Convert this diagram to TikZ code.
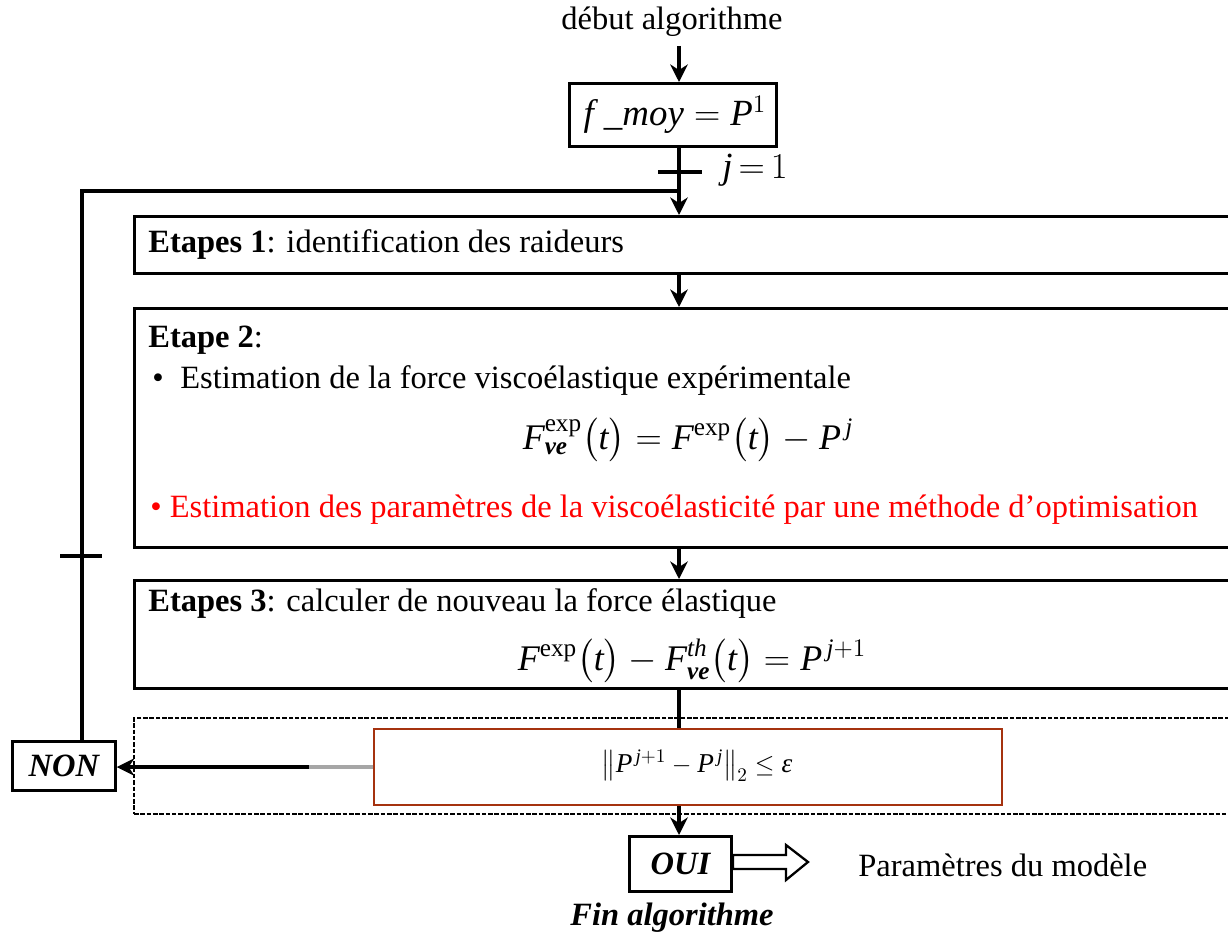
\documentclass[tikz,border=0pt]{standalone}
\usepackage{amsmath}
\usepackage{fontspec}
\setmainfont{Liberation Serif}
\usetikzlibrary{arrows.meta}
\newcommand{\pxl}[1]{#1*0.02cm}
\newcommand{\mi}[1]{\mathit{#1}}
\definecolor{testred}{RGB}{165,50,15}
\begin{document}
\begin{tikzpicture}[x=0.02cm,y=-0.02cm,
  every node/.style={font=\fontsize{18.5}{22}\selectfont, inner sep=0pt},
  box/.style={draw, line width=1.8pt, anchor=north west},
  arr/.style={line width=1.8pt, -{Stealth[length=10pt,width=10pt]}},
  conn/.style={line width=1.8pt},
  tick/.style={line width=2.4pt},
  big/.style={font=\fontsize{21}{25}\selectfont},
  eqf/.style={font=\fontsize{20.5}{24}\selectfont},
  bi/.style={font=\fontsize{18.5}{22}\selectfont\bfseries\itshape}]
\clip (0,0) rectangle (1228,937);
\coordinate (col) at (679,0);
\coordinate (lx) at (82,0);
\coordinate (jn) at (679,191);

% nodes
\node (start) at (672,22) {début algorithme};
\node[box, line width=1.6pt, minimum width=\pxl{207}, minimum height=\pxl{63}] (fmoy) at (568,82) {};
\node[big] (fmoytxt) at ([xshift=\pxl{2}]fmoy.center) {$\mi{f}\;\_\mi{moy} = \mi{P}^{1}$};
\node[big, anchor=west] (j1) at (722,170) {$\mi{j}\,{=}\,1$};

\node[box, minimum width=\pxl{1110}, minimum height=\pxl{57}] (e1) at (133,215) {};
\node[anchor=west] (e1t) at (148,245) {\textbf{Etapes 1}: identification des raideurs};

\node[box, minimum width=\pxl{1110}, minimum height=\pxl{239}] (e2) at (133,307) {};
\node[anchor=west] (e2t) at (148,340) {\textbf{Etape 2}:};
\node[anchor=west] (b1) at (152,381) {\textbullet};
\node[anchor=west] (e2l1) at (180,381) {Estimation de la force viscoélastique expérimentale};
\node[eqf] (eq2) at (688,440) {$\mi{F}^{\mathrm{exp}}_{\text{\bfseries\itshape ve}}\bigl(\mi{t}\bigr) = \mi{F}^{\mathrm{exp}}\bigl(\mi{t}\bigr) - \mi{P}^{\,\mi{j}}$};
\node[anchor=west, text=red] (e2l2) at (150,510) {\textbullet\ Estimation des paramètres de la viscoélasticité par une méthode d’optimisation};

\node[box, minimum width=\pxl{1110}, minimum height=\pxl{108}] (e3) at (133,579) {};
\node[anchor=west] (e3t) at (148,604) {\textbf{Etapes 3}: calculer de nouveau la force élastique};
\node[eqf] (eq3) at (692,661) {$\mi{F}^{\mathrm{exp}}\bigl(\mi{t}\bigr) - \mi{F}^{\mi{th}}_{\text{\bfseries\itshape ve}}\bigl(\mi{t}\bigr) = \mi{P}^{\,\mi{j}+1}$};

\node[draw, line width=1.1pt, dash pattern=on 2.6pt off 1pt, anchor=north west, minimum width=\pxl{1110}, minimum height=\pxl{96}] (dbox) at (133,717) {};
\node[draw=testred, line width=1.2pt, anchor=north west, fill=white, minimum width=\pxl{628}, minimum height=\pxl{76}] (test) at (373,728) {};
\node[font=\fontsize{15.5}{18}\selectfont] (normeq) at (697,766) {$\left\|\mi{P}^{\,\mi{j}+1} - \mi{P}^{\,\mi{j}}\right\|_{2} \le \text{\itshape ε}$};

\node[box, line width=1.6pt, minimum width=\pxl{103}, minimum height=\pxl{49}] (NON) at (11,740) {};
\node[bi] (nont) at (NON.center) {NON};

\node[box, line width=1.6pt, minimum width=\pxl{102}, minimum height=\pxl{55}] (OUI) at (628,835) {};
\node[bi] (ouit) at (OUI.center) {OUI};
\node[anchor=west] (params) at (858,865) {Paramètres du modèle};
\node[bi] (fin) at (672,918) {Fin algorithme};

% connectors
\draw[arr, shorten <=5pt] (start.south -| col) -- (fmoy.north -| col);
\draw[arr] (fmoy.south -| col) -- (e1.north -| col);
\draw[tick] (658,172) -- (702,172);
\draw[conn] (NON.north -| lx) |- (jn);
\draw[tick] (60,556) -- (102,556);
\draw[arr] (e1.south -| col) -- (e2.north -| col);
\draw[arr] (e2.south -| col) -- (e3.north -| col);
\draw[conn] (e3.south -| col) -- (test.north -| col);
\draw[arr] (test.west) -- (test.west -| NON.east);
\draw[line width=1.8pt, gray!70] (test.west) -- ++(-64,0);
\draw[arr] (test.south -| col) -- (OUI.north -| col);
\draw[line width=1.3pt, fill=white] (733,855) -- (786,855) -- (786,845) -- (808,862) -- (786,880) -- (786,869) -- (733,869) -- cycle;
\end{tikzpicture}
\end{document}
